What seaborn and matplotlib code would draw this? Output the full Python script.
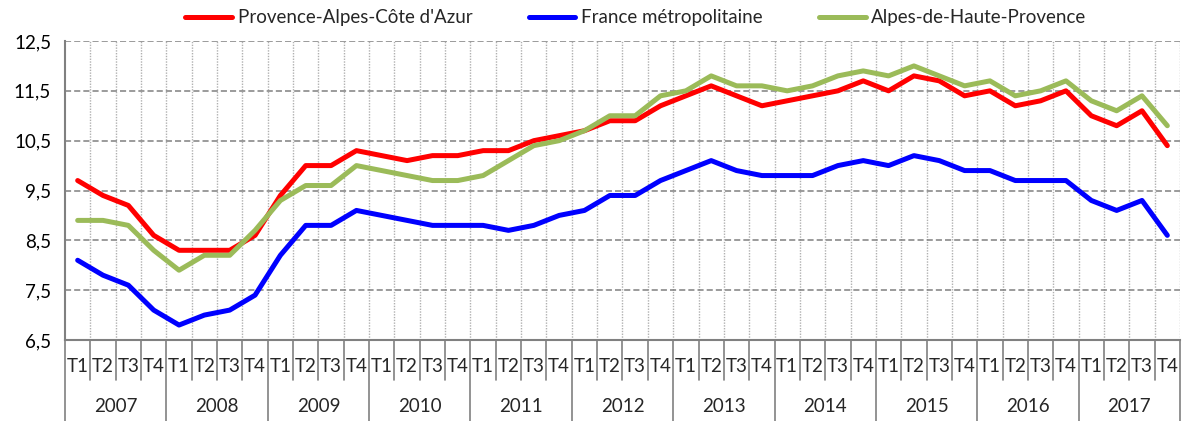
import numpy as np
import pandas as pd
import matplotlib
matplotlib.use("Agg")
import matplotlib.pyplot as plt
import matplotlib.transforms as mtransforms
from matplotlib.ticker import FuncFormatter
import seaborn as sns

years = [str(y) for y in range(2007, 2018)]
quarters = ["T1", "T2", "T3", "T4"]

paca = [9.7, 9.4, 9.2, 8.6, 8.3, 8.3, 8.3, 8.6, 9.4, 10.0, 10.0, 10.3,
        10.2, 10.1, 10.2, 10.2, 10.3, 10.3, 10.5, 10.6, 10.7, 10.9, 10.9, 11.2,
        11.4, 11.6, 11.4, 11.2, 11.3, 11.4, 11.5, 11.7, 11.5, 11.8, 11.7, 11.4,
        11.5, 11.2, 11.3, 11.5, 11.0, 10.8, 11.1, 10.4]
france = [8.1, 7.8, 7.6, 7.1, 6.8, 7.0, 7.1, 7.4, 8.2, 8.8, 8.8, 9.1,
          9.0, 8.9, 8.8, 8.8, 8.8, 8.7, 8.8, 9.0, 9.1, 9.4, 9.4, 9.7,
          9.9, 10.1, 9.9, 9.8, 9.8, 9.8, 10.0, 10.1, 10.0, 10.2, 10.1, 9.9,
          9.9, 9.7, 9.7, 9.7, 9.3, 9.1, 9.3, 8.6]
ahp = [8.9, 8.9, 8.8, 8.3, 7.9, 8.2, 8.2, 8.7, 9.3, 9.6, 9.6, 10.0,
       9.9, 9.8, 9.7, 9.7, 9.8, 10.1, 10.4, 10.5, 10.7, 11.0, 11.0, 11.4,
       11.5, 11.8, 11.6, 11.6, 11.5, 11.6, 11.8, 11.9, 11.8, 12.0, 11.8, 11.6,
       11.7, 11.4, 11.5, 11.7, 11.3, 11.1, 11.4, 10.8]

names = ["Provence-Alpes-Côte d'Azur", "France métropolitaine", "Alpes-de-Haute-Provence"]
colors = ["#FF0000", "#0000FF", "#9BBB59"]

n = len(paca)
idx = np.arange(n)
df = pd.concat([
    pd.DataFrame({"i": idx, "val": vals, "serie": name})
    for name, vals in zip(names, [paca, france, ahp])
])

sns.set_style("white")
plt.rcParams["font.family"] = ["Lato", "DejaVu Sans"]
fs = 13.5

fig = plt.figure(figsize=(11.82, 4.21), dpi=100)
ax = fig.add_axes([65 / 1182, 1 - 340 / 421, 1115 / 1182, 299 / 421])

sns.lineplot(data=df, x="i", y="val", hue="serie", palette=colors,
             hue_order=names, linewidth=3.6, sort=False, ax=ax, legend=False)

grey = "#808080"
ax.set_xlim(-0.5, n - 0.5)
ax.set_ylim(6.5, 12.5)
ax.set_yticks(np.arange(6.5, 12.6, 1.0))
ax.yaxis.set_major_formatter(FuncFormatter(lambda v, p: f"{v:.1f}".replace(".", ",")))
ax.grid(axis="y", color=grey, linestyle=(0, (4, 2)), linewidth=1.1)
ax.set_axisbelow(True)
for b in np.arange(0.5, n, 1.0):
    ax.axvline(b, color="#b0b0b0", linestyle=(0, (1, 1)), linewidth=1.0, zorder=0)

for s in ["top", "right"]:
    ax.spines[s].set_visible(False)
for s in ["left", "bottom"]:
    ax.spines[s].set_color(grey)
    ax.spines[s].set_linewidth(1.5)

ax.tick_params(axis="y", direction="out", length=5, color=grey, width=1.2,
               labelsize=fs, pad=5, labelcolor="#000000")
ax.set_xticks([])
ax.set_xlabel("")
ax.set_ylabel("")

trans = mtransforms.blended_transform_factory(ax.transData, ax.transAxes)
for i in range(n):
    ax.text(i, -0.087, quarters[i % 4], transform=trans, ha="center", va="center",
            fontsize=fs, clip_on=False)
for b in np.arange(-0.5, n + 0.5, 1.0):
    k = int(round(b + 0.5))
    low = -0.27 if k % 4 == 0 else -0.134
    ax.plot([b, b], [0, low], transform=trans, color=grey, linewidth=1.2, clip_on=False)
for j, yr in enumerate(years):
    ax.text(4 * j + 1.5, -0.224, yr, transform=trans, ha="center", va="center",
            fontsize=fs, clip_on=False)

handles = [plt.Line2D([], [], color=c, linewidth=3.6) for c in colors]
fig.legend(handles, names, loc="center", bbox_to_anchor=(0.538, 1 - 18 / 421), ncol=3,
           frameon=False, fontsize=fs, handlelength=2.5, handletextpad=0.3,
           columnspacing=3.0)

fig.savefig("out.png", dpi=100)
